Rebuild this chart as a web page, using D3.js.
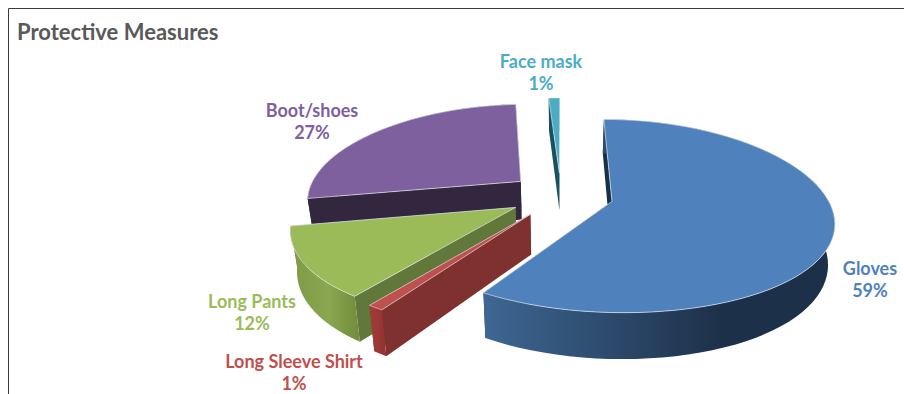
<!DOCTYPE html>
<html>
<head>
<meta charset="utf-8">
<script src="https://cdn.jsdelivr.net/npm/d3@7"></script>
<style>
  html, body { margin: 0; padding: 0; background: #fff; }
  svg { display: block; }
  text { font-family: Lato, "Open Sans", sans-serif; font-weight: 700; }
</style>
</head>
<body>
<svg id="chart" width="904" height="394"></svg>
<script>
// Share of respondents per protective measure, clockwise from 12 o'clock.
const categories = ["Gloves", "Long Sleeve Shirt", "Long Pants", "Boot/shoes", "Face mask"];
const percentages = [59, 1, 12, 27, 1];
const chartTitle = "Protective Measures";

// Per-slice paint: top face, radial wall, and outer rim gradient stops.
const topFills = ["#4f81bd", "#c0504d", "#9bbb59", "#7f609e", "#4bacc6"];
const wallFills = ["#1b2f47", "#7f312f", "#62783a", "#33263f", "#17525f"];
const rimStops = [
  [[0, "#3e6793"], [0.68, "#1d3049"], [1, "#1d3049"]],
  [[0, "#a33c39"], [1, "#93322f"]],
  [[0, "#7e9a48"], [0.55, "#8aa64f"], [1, "#718c3a"]],
  [[0, "#33263f"], [1, "#33263f"]],
  [[0, "#17525f"], [1, "#17525f"]]
];
const labelColors = ["#4f81bd", "#c0504d", "#9bbb59", "#7f609e", "#4bacc6"];

// Back-to-front paint order (indices into the arrays above).
const paintOrder = [4, 3, 0, 2, 1];

// Geometry of the tilted disc, in unit-radius world coordinates.
const explode = 0.245;     // radial pull-out of every slice
const perspectiveX = 0.187; // horizontal growth toward the viewer
const perspectiveY = 0.15;  // vertical growth toward the viewer
const thickness = 39;      // wall height in px at scale 1
const baseShrink = 0.975;  // lower face sits farther from the camera

const svg = d3.select("#chart");

// Linear maps from projected world units to pixels.
const px = d3.scaleLinear().domain([0, 1]).range([561, 561 + 214]);
const py = d3.scaleLinear().domain([0, 1]).range([195, 195 + 92.5]);

function project(X, Y, lifted) {
  const sx = 1 / (1 - perspectiveX * Y);
  const sy = 1 / (1 - perspectiveY * Y);
  if (lifted) return [px(X * sx), py(Y * sy)];
  return [px(X * sx * baseShrink), py(Y * sy) + thickness * sy];
}

// Slice angles come straight from the percentages.
const arcs = d3.pie().sort(null).value(d => d).startAngle(0).endAngle(2 * Math.PI)(percentages);
const outline = d3.line();

const defs = svg.append("defs");
rimStops.forEach((stops, i) => {
  const g = defs.append("linearGradient").attr("id", "rim" + i)
    .attr("x1", 0).attr("x2", 1).attr("y1", 0).attr("y2", 0);
  stops.forEach(([o, c]) => g.append("stop").attr("offset", o).attr("stop-color", c));
});

// Frame around the chart area
svg.append("path")
  .attr("d", "M8.5,394V8.5H904")
  .attr("fill", "none").attr("stroke", "#3a3a3a").attr("stroke-width", 1);

svg.append("text")
  .attr("x", 17).attr("y", 40)
  .attr("font-size", 22).attr("fill", "#595959")
  .text(chartTitle);

const pie = svg.append("g");

paintOrder.forEach(i => {
  const a = arcs[i];
  const mid = (a.startAngle + a.endAngle) / 2;
  const ox = explode * Math.sin(mid);
  const oy = -explode * Math.cos(mid);
  const rimAngles = d3.range(0, 73).map(k => a.startAngle + (a.endAngle - a.startAngle) * k / 72);
  const rimPoint = t => [ox + Math.sin(t), oy - Math.cos(t)];

  const topRim = rimAngles.map(t => project(...rimPoint(t), true));
  const lowRim = rimAngles.map(t => project(...rimPoint(t), false));
  const apexTop = project(ox, oy, true);
  const apexLow = project(ox, oy, false);

  const g = pie.append("g").attr("class", "slice");

  // radial walls
  [[topRim[0], lowRim[0]], [topRim[72], lowRim[72]]].forEach(([t, l]) => {
    g.append("path")
      .attr("d", outline([apexTop, t, l, apexLow]) + "Z")
      .attr("fill", wallFills[i]);
  });

  // outer rim
  g.append("path")
    .attr("d", outline(topRim.concat(lowRim.slice().reverse())) + "Z")
    .attr("fill", `url(#rim${i})`);

  // top face
  g.append("path")
    .attr("d", outline([apexTop].concat(topRim)) + "Z")
    .attr("fill", topFills[i])
    .attr("stroke", "#dfe6ee").attr("stroke-width", 0.7).attr("stroke-linejoin", "round");
});

// Data labels: category name above its percentage
const labelAnchors = [[870, 275], [294, 368], [252, 308], [312, 117], [541, 68]];
categories.forEach((name, i) => {
  const [x, y] = labelAnchors[i];
  const t = svg.append("text")
    .attr("text-anchor", "middle").attr("font-size", 18).attr("fill", labelColors[i]);
  t.append("tspan").attr("x", x).attr("y", y).text(name);
  t.append("tspan").attr("x", x).attr("y", y + 21.5).text(percentages[i] + "%");
});
</script>
</body>
</html>
